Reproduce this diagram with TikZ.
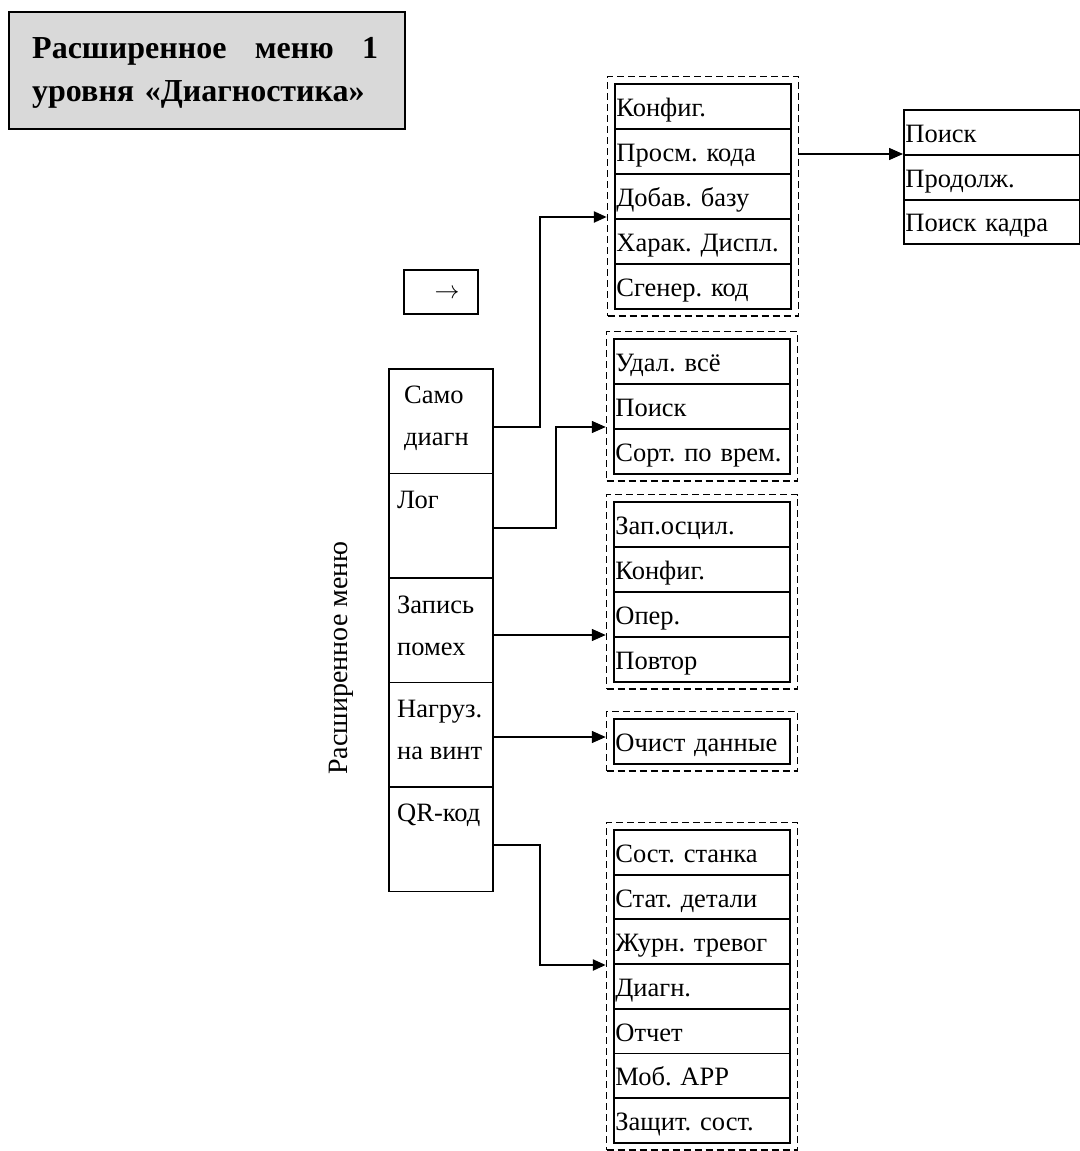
\documentclass[tikz,border=0pt]{standalone}
\usepackage{fontspec}
\setmainfont{Liberation Serif}
\frenchspacing
\usetikzlibrary{arrows.meta,fit}
\begin{document}
\begin{tikzpicture}[x=1pt,y=-1pt,
  rowcell/.style={draw,line width=1.8pt,anchor=north west,inner xsep=1.5pt,inner ysep=0pt,
     text width=173pt,text height=32.5pt,text depth=12.2pt,align=left,
     font=\fontsize{26.5}{30}\selectfont},
  mainbox/.style={draw,line width=1.8pt,anchor=north west,minimum width=104pt,
     minimum height=104.5pt,inner sep=0pt},
  maintext/.style={anchor=base west,inner sep=0pt,font=\fontsize{26.5}{30}\selectfont},
  dbox/.style={draw,line width=1.5pt,dash pattern=on 7pt off 4pt,inner sep=6.5pt},
  conn/.style={line width=1.5pt,-{Triangle[length=14pt,width=12pt]}},
  thickconn/.style={line width=2.4pt,-{Triangle[length=13pt,width=11pt]}}
]
\useasboundingbox[fill=white] (0,0) rectangle (1079,1151);

% title
\node[draw,line width=2pt,fill=gray!30,anchor=north west,minimum width=396pt,
  minimum height=117pt,inner sep=0pt] (title) at (8,11) {};
\node[anchor=base west,inner sep=0pt,text width=346pt,align=left,
  font=\bfseries\fontsize{32}{43}\selectfont] (titletext) at (32,58)
  {Расширенное\hfill меню\hfill 1\\уровня «Диагностика»};

% arrow box
\node[draw,line width=1.5pt,anchor=north west,minimum width=74pt,minimum height=44pt,
  inner sep=0pt] (arrbox) at (403,269) {};
\node[inner sep=0pt,font=\fontsize{24}{24}\selectfont] (arrsym) at (447,294) {$\rightarrow$};

% vertical label
\node[rotate=90,inner sep=0pt,font=\fontsize{28}{30}\selectfont] (vlabel) at (341,658) {Расширенное меню};

% main column
\node[mainbox] (m1) at (388,368) {};
\node[mainbox] (m2) at (388,472.5) {};
\node[mainbox] (m3) at (388,577) {};
\node[mainbox] (m4) at (388,681.5) {};
\node[mainbox] (m5) at (388,786) {};
\node[maintext] (m1a) at (404,403) {Само};
\node[maintext] (m1b) at (404,445) {диагн};
\node[maintext] (m2a) at (397,508) {Лог};
\node[maintext] (m3a) at (397,613) {Запись};
\node[maintext] (m3b) at (397,655) {помех};
\node[maintext] (m4a) at (397,717) {Нагруз.};
\node[maintext] (m4b) at (397,759) {на винт};
\node[maintext] (m5a) at (397,821) {QR-код};

% group 1
\node[rowcell] (a1) at (614,83) {\mbox{Конфиг.}};
\node[rowcell] (a2) at (614,128) {\mbox{Просм. кода}};
\node[rowcell] (a3) at (614,173) {\mbox{Добав. базу}};
\node[rowcell] (a4) at (614,218) {\mbox{Харак. Диспл.}};
\node[rowcell] (a5) at (614,263) {\mbox{Сгенер. код}};
\node[dbox,fit=(a1)(a5)] (g1) {};

% right group
\node[rowcell] (r1) at (903,109) {\mbox{Поиск}};
\node[rowcell] (r2) at (903,154) {\mbox{Продолж.}};
\node[rowcell] (r3) at (903,198.5) {\mbox{Поиск кадра}};

% group 2
\node[rowcell] (b1) at (613,338) {\mbox{Удал. всё}};
\node[rowcell] (b2) at (613,383) {\mbox{Поиск}};
\node[rowcell] (b3) at (613,428) {\mbox{Сорт. по врем.}};
\node[dbox,fit=(b1)(b3)] (g2) {};

% group 3
\node[rowcell] (c1) at (613,501) {\mbox{Зап.осцил.}};
\node[rowcell] (c2) at (613,546) {\mbox{Конфиг.}};
\node[rowcell] (c3) at (613,591) {\mbox{Опер.}};
\node[rowcell] (c4) at (613,636) {\mbox{Повтор}};
\node[dbox,fit=(c1)(c4)] (g3) {};

% group 4
\node[rowcell] (d1) at (613,718) {\mbox{Очист данные}};
\node[dbox,fit=(d1)] (g4) {};

% group 5
\node[rowcell] (e1) at (613,829) {\mbox{Сост. станка}};
\node[rowcell] (e2) at (613,873.7) {\mbox{Стат. детали}};
\node[rowcell] (e3) at (613,918.4) {\mbox{Журн. тревог}};
\node[rowcell] (e4) at (613,963.1) {\mbox{Диагн.}};
\node[rowcell] (e5) at (613,1007.8) {\mbox{Отчет}};
\node[rowcell] (e6) at (613,1052.5) {\mbox{Моб. APP}};
\node[rowcell] (e7) at (613,1097.2) {\mbox{Защит. сост.}};
\node[dbox,fit=(e1)(e7)] (g5) {};

% connectors
\draw[thickconn] (m1.east |- 0,427) -- (540,427) -- (540,217) -- (g1.west |- 0,217);
\draw[conn] (m2.east |- 0,528) -- (556,528) -- (556,427) -- (g2.west |- 0,427);
\draw[conn] (m3.east |- 0,635) -- (g3.west |- 0,635);
\draw[conn] (m4.east |- 0,737) -- (g4.west |- 0,737);
\draw[thickconn] (m5.east |- 0,845) -- (540,845) -- (540,965) -- (g5.west |- 0,965);
\draw[conn] (g1.east |- r2.north west) -- (r2.north west);
\end{tikzpicture}
\end{document}
